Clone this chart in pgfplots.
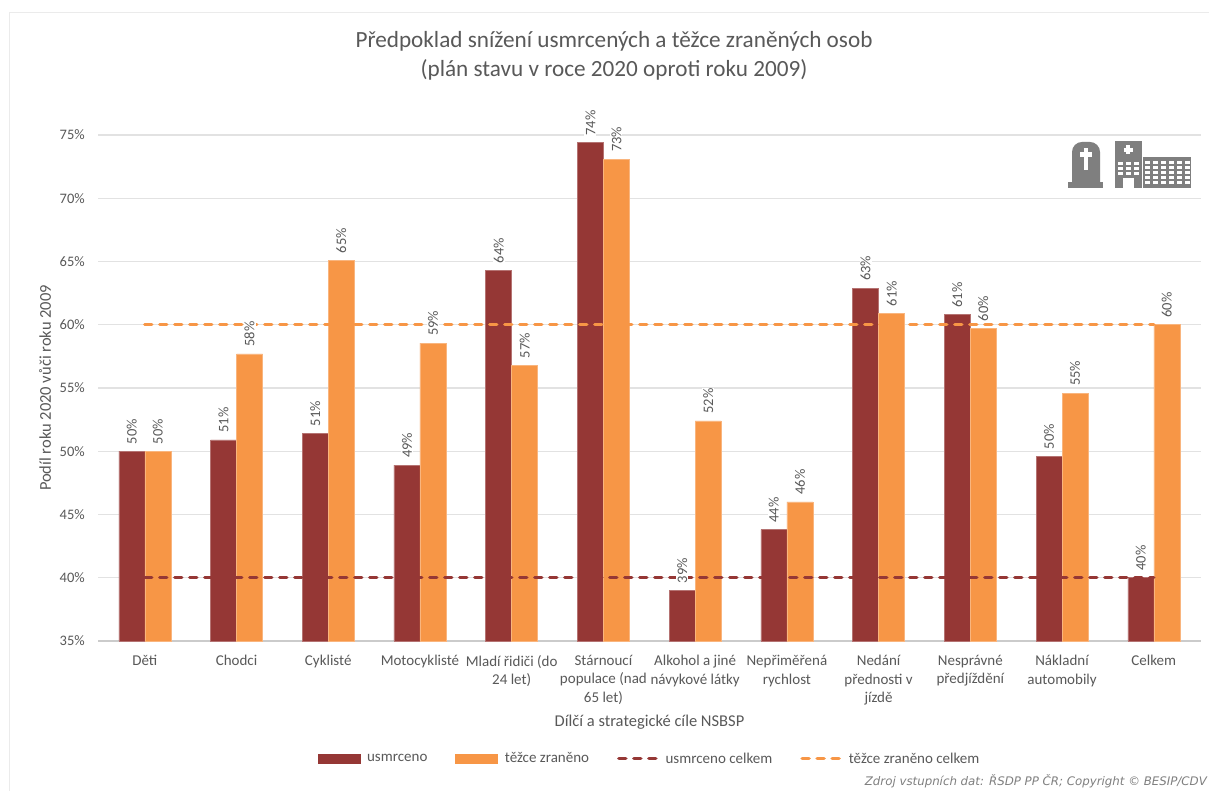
\documentclass[border=0pt]{standalone}
\usepackage{fontspec}
\setmainfont{Carlito}
\newfontfamily\srcfont{DejaVu Sans}
\usepackage{pgfplots}
\usepackage{pgfplotstable}
\pgfplotsset{compat=1.18}
\definecolor{mar}{HTML}{953735}
\definecolor{ora}{HTML}{F79646}
\definecolor{txt}{HTML}{595959}
\definecolor{grd}{HTML}{E2E2E2}
\definecolor{ico}{HTML}{7F7F7F}
\pgfplotstableread{
x u t xu xt
0 50.0 50.0 -0.142 0.142
1 50.9 57.7 0.858 1.142
2 51.4 65.1 1.858 2.142
3 48.9 58.55 2.858 3.142
4 64.3 56.8 3.858 4.142
5 74.4 73.1 4.858 5.142
6 39.0 52.4 5.858 6.142
7 43.8 46.0 6.858 7.142
8 62.9 60.9 7.858 8.142
9 60.8 59.7 8.858 9.142
10 49.6 54.6 9.858 10.142
11 40.0 60.0 10.858 11.142
}\data
\pgfplotstableread{
x v
0 40
11 40
}\lineu
\pgfplotstableread{
x v
0 60
11 60
}\linet
\begin{document}
\begin{tikzpicture}[x=1pt,y=1pt]
\path[use as bounding box] (0,0) rectangle (1209,791);
\fill[white] (0,0) rectangle (1209,791);
\draw[color=grd!70!white,line width=1pt] (9.5,0) -- (9.5,778) -- (1209,778);
\begin{axis}[
  at={(98pt,150pt)}, anchor=south west,
  scale only axis, width=1103pt, height=506pt,
  xmin=-0.51, xmax=11.515, ymin=35, ymax=75,
  clip=false,
  axis x line*=bottom, axis y line*=left,
  y axis line style={draw=none},
  x axis line style={draw=grd!90!black,line width=1.2pt,-},
  ymajorgrids, grid style={color=grd,line width=1.3pt},
  major tick length=0pt,
  ytick={35,40,45,50,55,60,65,70,75},
  yticklabel={\pgfmathprintnumber{\tick}\%},
  /pgf/number format/assume math mode=true,
  xtick={0,...,11},
  xticklabels={Děti,Chodci,Cyklisté,Motocyklisté,{Mladí řidiči (do\\24 let)},{Stárnoucí\\populace (nad\\65 let)},{Alkohol a jiné\\návykové látky},{Nepřiměřená\\rychlost},{Nedání\\přednosti v\\jízdě},{Nesprávné\\předjíždění},{Nákladní\\automobily},Celkem},
  tick label style={text=txt},
  xticklabel style={font=\fontsize{15}{18.5}\selectfont,align=center,yshift=-12pt,inner sep=2pt},
  yticklabel style={font=\fontsize{14.5}{17}\selectfont,inner sep=0pt,xshift=-13pt},
  xlabel={Dílčí a strategické cíle NSBSP},
  ylabel={Podíl roku 2020 vůči roku 2009},
  label style={font=\fontsize{16.5}{19}\selectfont,text=txt},
  xlabel style={at={(axis description cs:0.5,-0.160)},anchor=center},
  ylabel style={at={(axis description cs:-0.048,0.5)},anchor=center},
  legend columns=4,
  legend cell align=left,
  legend style={at={(axis description cs:0.5,-0.2325)},anchor=center,draw=none,fill=none,
    font=\fontsize{15}{17}\selectfont,text=txt,
    /tikz/every even column/.append style={column sep=26pt},
    /tikz/every odd column/.append style={column sep=5pt}},
]
\addplot[ybar,bar width=26pt,bar shift=-13pt,fill=mar,draw=mar!70!white,line width=0.5pt,
  legend image code/.code={\fill[mar] (0pt,-4.5pt) rectangle (42pt,4.5pt);}]
  table[x=x,y=u]{\data};
\addlegendentry{usmrceno}
\addplot[ybar,bar width=26pt,bar shift=13pt,fill=ora,draw=ora!70!white,line width=0.5pt,
  legend image code/.code={\fill[ora] (0pt,-4.5pt) rectangle (42pt,4.5pt);}]
  table[x=x,y=t]{\data};
\addlegendentry{těžce zraněno}
\addplot[color=mar,line width=3.5pt,line cap=round,dash pattern=on 7pt off 8pt,
  legend image code/.code={\draw[color=mar,line width=3.5pt,line cap=round,dash pattern=on 7pt off 8pt] (2pt,0pt) -- (40pt,0pt);}]
  table[x=x,y=v]{\lineu};
\addlegendentry{usmrceno celkem}
\addplot[color=ora,line width=3.5pt,line cap=round,dash pattern=on 7pt off 8pt,
  legend image code/.code={\draw[color=ora,line width=3.5pt,line cap=round,dash pattern=on 7pt off 8pt] (2pt,0pt) -- (40pt,0pt);}]
  table[x=x,y=v]{\linet};
\addlegendentry{těžce zraněno celkem}
% data labels above everything
\pgfplotsset{lbl/.style={draw=none,mark=none,forget plot,
  point meta=y,
  nodes near coords={\pgfmathprintnumber[fixed,precision=0]{\pgfplotspointmeta}\%},
  nodes near coords style={font=\fontsize{14.5}{16}\selectfont,text=txt,fill=white,inner sep=1pt,rotate=90,anchor=west,xshift=6pt,/pgf/number format/assume math mode=true}}}
\addplot[lbl] table[x=xu,y=u]{\data};
\addplot[lbl] table[x=xt,y=t]{\data};
\end{axis}
% title
\node[font=\fontsize{23.2}{29}\selectfont,text=txt,align=center] at (614,735.5) {Předpoklad snížení usmrcených a těžce zraněných osob\\(plán stavu v roce 2020 oproti roku 2009)};
% source
\node[font=\srcfont\itshape\fontsize{11.8}{13}\selectfont,text=ico,anchor=east,inner sep=0pt] at (1207,10) {Zdroj vstupních dat: ŘSDP PP ČR; Copyright © BESIP/CDV};
% tombstone icon
\fill[ico] (1068,603) rectangle (1103,609);
\fill[ico] (1072,609) -- (1072,639) arc[start angle=180,end angle=90,radius=10] -- (1090,649) arc[start angle=90,end angle=0,radius=10] -- (1100,609) -- cycle;
\fill[white] (1083.5,621) rectangle (1088,643);
\fill[white] (1079.5,634) rectangle (1092,638.5);
% hospital icon
\fill[ico] (1115,603) rectangle (1142,650);
\fill[ico] (1143,603) rectangle (1191,634);
\fill[white] (1126.3,636.5) rectangle (1129.7,645.5);
\fill[white] (1123.5,639.3) rectangle (1132.5,642.7);
\fill[white] (1123,603) rectangle (1134,613);
\foreach \yy in {616,621,626}{\foreach \xx in {1118,1126,1134}{\fill[white] (\xx,\yy) rectangle +(4.5,3.2);}}
\foreach \yy in {607,612,617,622,627}{\foreach \xx in {1145,1153,1161,1169,1177,1184.5}{\fill[white] (\xx,\yy) rectangle +(5,2.8);}}
\end{tikzpicture}
\end{document}
